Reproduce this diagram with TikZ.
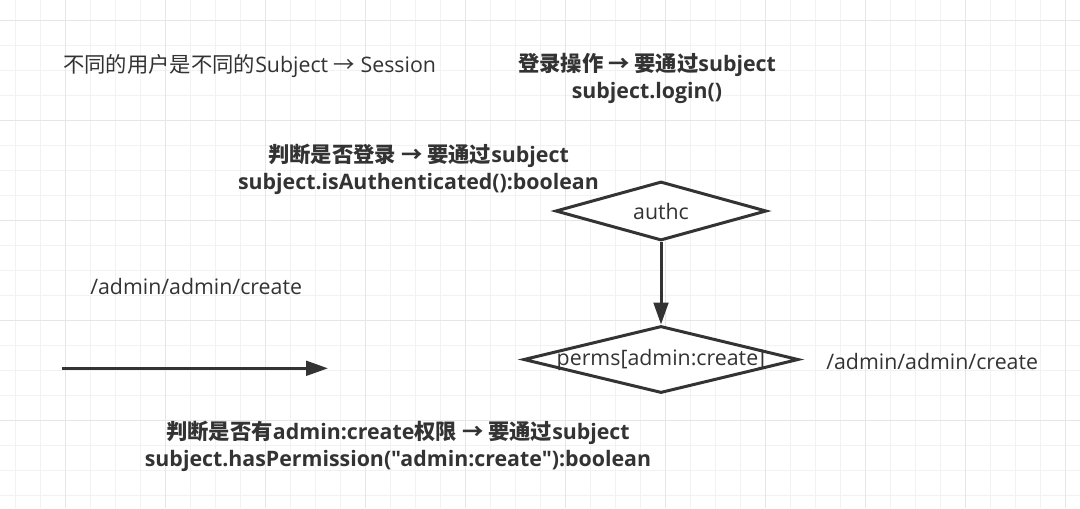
\documentclass[tikz,border=0pt]{standalone}
\usepackage{fontspec}
\setmainfont{Open Sans}[Ligatures=TeXOff]
\newfontfamily\cjk{Noto Sans CJK SC}
\newcommand\zh[1]{{\cjk #1}}
\usetikzlibrary{shapes.geometric,arrows.meta}
\definecolor{textc}{HTML}{333333}
\definecolor{linec}{HTML}{333333}
\definecolor{gridminor}{HTML}{F2F2F2}
\definecolor{gridmajor}{HTML}{E6E6E6}
\tikzset{
  txt/.style={inner sep=0pt, text=textc, font=\fontsize{16pt}{20.25pt}\selectfont},
  btxt/.style={txt, font=\fontsize{16pt}{20.25pt}\selectfont\bfseries, align=center},
  dia/.style={diamond, draw=linec, line width=2.25pt, fill=white, inner sep=0pt},
  conn/.style={draw=linec, line width=2.25pt, -{Triangle[length=16.5pt, width=11pt]}},
}
\begin{document}
\begin{tikzpicture}[x=0.75pt, y=-0.75pt]
\useasboundingbox (0,0) rectangle (1080,508);
\fill[white] (0,0) rectangle (1080,508);
% grid
\foreach \i in {0,...,43} {
  \draw[gridminor, line width=0.75pt] (15.7+25*\i,0) -- (15.7+25*\i,508);
}
\foreach \i in {0,...,20} {
  \draw[gridminor, line width=0.75pt] (0,20.7+25*\i) -- (1080,20.7+25*\i);
}
\foreach \i in {0,...,10} {
  \draw[gridmajor, line width=0.75pt] (65.7+100*\i,0) -- (65.7+100*\i,508);
}
\foreach \i in {0,...,4} {
  \draw[gridmajor, line width=0.75pt] (0,20.7+100*\i) -- (1080,20.7+100*\i);
}
% diamonds
\node[dia, minimum width=158.25pt, minimum height=44.25pt] (authc) at (661,211) {};
\node[txt] (authcT) at (authc.center) {authc};
\node[dia, minimum width=206.25pt, minimum height=50.25pt] (perms) at (661,359.5) {};
\node[txt] (permsT) at (perms.center) {perms[admin:create]};
\draw[conn] (authc.south) -- (perms.north);
% horizontal arrow
\coordinate (hs) at (61.7,368.3);
\coordinate (he) at (328,368.3);
\draw[conn] (hs) -- (he);
% texts
\node[txt, anchor=west] (t1) at (63,66.5) {\zh{不同的用户是不同的}Subject \zh{→} Session};
\node[btxt] (t2) at (647,78.5) {\zh{登录操作 → 要通过}subject\\subject.login()};
\node[btxt] (t3) at (418.5,169) {\zh{判断是否登录 → 要通过}subject\\subject.isAuthenticated():boolean};
\node[txt, anchor=west] (t4) at (90,286) {/admin/admin/create};
\node[txt, anchor=west] (t5) at (826,361) {/admin/admin/create};
\node[btxt] (t6) at (398,446.5) {\zh{判断是否有}admin:create\zh{权限 → 要通过}subject\\subject.hasPermission("admin:create"):boolean};
\end{tikzpicture}
\end{document}
